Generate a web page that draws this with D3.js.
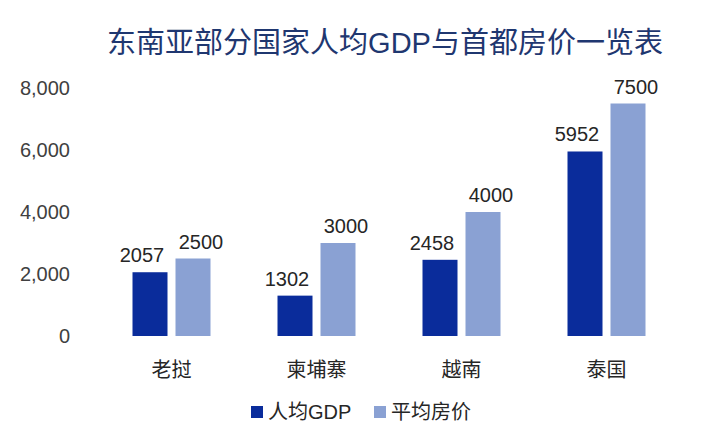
<!DOCTYPE html><html><head><meta charset="utf-8"><script src="https://d3js.org/d3.v7.min.js"></script>
<style>body{margin:0;background:#fff}text{font-family:"Liberation Sans","Noto Sans CJK SC",sans-serif}</style></head><body><script>
const categories=["老挝","柬埔寨","越南","泰国"];
const gdp=[2057,1302,2458,5952];
const price=[2500,3000,4000,7500];
const seriesNames=["人均GDP","平均房价"];
const yTicks=[0,2000,4000,6000,8000];
const colors=["#0a2c9b","#8aa1d3"];
const svg=d3.select("body").append("svg").attr("width",714).attr("height",439);
svg.append("text").attr("x",385).attr("y",53).attr("text-anchor","middle").attr("font-size",29).attr("fill","#1f3770").text("东南亚部分国家人均GDP与首都房价一览表");
const x=d3.scaleBand().domain(categories).range([99,679]);
const y=d3.scaleLinear().domain([0,8000]).range([336,88]);
svg.selectAll(".yt").data(yTicks).enter().append("text").attr("x",70).attr("y",d=>y(d)+7).attr("text-anchor","end").attr("font-size",20).attr("fill","#404040").text(d3.format(","));
const bw=35,gap=8;
const series=[gdp,price];
series.forEach((s,si)=>{
 const off=si==0?-gap/2-bw:gap/2;
 svg.selectAll(".b"+si).data(s).enter().append("rect").attr("x",(d,i)=>x(categories[i])+x.bandwidth()/2+off).attr("y",d=>y(d)).attr("width",bw).attr("height",d=>y(0)-y(d)).attr("fill",colors[si]);
 svg.selectAll(".l"+si).data(s).enter().append("text").attr("x",(d,i)=>x(categories[i])+x.bandwidth()/2+off+bw/2+(si==0?-8:8)).attr("y",d=>y(d)-10).attr("text-anchor","middle").attr("font-size",20).attr("fill","#262626").text(d=>d);
});
svg.selectAll(".c").data(categories).enter().append("text").attr("x",d=>x(d)+x.bandwidth()/2).attr("y",377).attr("text-anchor","middle").attr("font-size",20).attr("fill","#262626").text(d=>d);
const lx=[251,374];
seriesNames.forEach((n,i)=>{
 svg.append("rect").attr("x",lx[i]).attr("y",406).attr("width",12).attr("height",12).attr("fill",colors[i]);
 svg.append("text").attr("x",lx[i]+17).attr("y",419).attr("font-size",20).attr("fill","#262626").text(n);
});
</script></body></html>
